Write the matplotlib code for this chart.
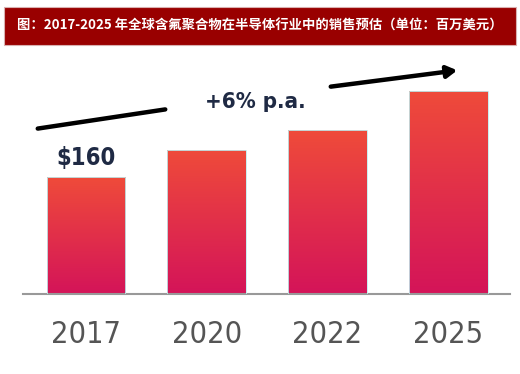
import numpy as np
import matplotlib.pyplot as plt
from matplotlib.patches import Rectangle
from matplotlib.colors import LinearSegmentedColormap

plt.rcParams['font.family'] = ['Noto Sans CJK SC', 'DejaVu Sans']

years = ['2017', '2020', '2022', '2025']
sales = [160, 197, 224, 278]
title = '图：2017-2025 年全球含氟聚合物在半导体行业中的销售预估（单位：百万美元）'
first_label = '$160'
growth_label = '+6% p.a.'

W, H = 520, 374
fig = plt.figure(figsize=(W / 100, H / 100), dpi=100)

# title bar
fig.patches.append(Rectangle((4 / W, 1 - 45 / H), 512 / W, 38 / H, transform=fig.transFigure,
                             facecolor='#990000', edgecolor='#d9b0b0', linewidth=0.8))
fig.text(260 / W, 1 - 26 / H, title, color='white', fontsize=9.6, fontweight='bold',
         ha='center', va='center')

narrow = dict(family='DejaVu Sans', fontstretch='condensed')

# main axes
ax = fig.add_axes([23 / W, 80 / H, 487 / W, 244 / H])
ax.set_xlim(-0.52, 3.51)
ax.set_ylim(0, 333.7)
x = np.arange(len(years))
bars = ax.bar(x, sales, width=0.65, color='none', edgecolor='#bdeef0', linewidth=0.6, zorder=3)

cmap = LinearSegmentedColormap.from_list('g', ['#d41459', '#ef4b3a'])
grad = np.linspace(0, 1, 256).reshape(-1, 1)
for b in bars:
    x0, w, h = b.get_x(), b.get_width(), b.get_height()
    im = ax.imshow(grad, extent=[x0, x0 + w, 0, h], origin='lower', cmap=cmap,
                   aspect='auto', zorder=2)
    im.set_clip_path(b)

for s in ['top', 'right', 'left']:
    ax.spines[s].set_visible(False)
ax.spines['bottom'].set_color('#999999')
ax.spines['bottom'].set_linewidth(1.5)
ax.set_yticks([])
ax.set_xticks(x)
ax.set_xticklabels(years, fontsize=22, color='#555555', **narrow)
ax.tick_params(axis='x', length=0, pad=19)

ax.text(x[0], sales[0] + 10, first_label, fontsize=17, fontweight='bold', color='#1f2a44',
        ha='center', va='bottom', **narrow)

# growth arrows
ax.annotate('', xy=(168, H - 109), xytext=(35, H - 129), xycoords='figure pixels',
            arrowprops=dict(arrowstyle='-', lw=3.2, color='black'))
ax.annotate('', xy=(460, H - 70), xytext=(328, H - 87), xycoords='figure pixels',
            arrowprops=dict(arrowstyle='-|>,head_length=0.6,head_width=0.35', lw=3.2, color='black'))
fig.text(205 / W, 1 - 102 / H, growth_label, fontsize=16, fontweight='bold', color='#1f2a44',
         ha='left', va='center', **narrow)

fig.savefig('out.png', dpi=100)
